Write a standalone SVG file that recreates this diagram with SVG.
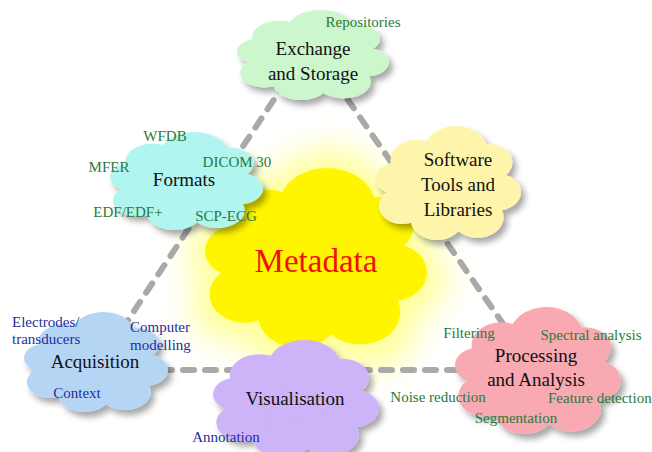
<svg xmlns="http://www.w3.org/2000/svg" xmlns:xlink="http://www.w3.org/1999/xlink" width="652" height="452" viewBox="0 0 652 452">
  <style>
    text { font-family: "Liberation Serif", Tinos, "Times New Roman", "DejaVu Serif", serif; }
    .title { font-size: 19px; fill: #111; text-anchor: middle; }
    .meta { font-size: 33px; fill: #f01010; text-anchor: middle; }
    .lbl { font-size: 15px; text-anchor: middle; }
    .green { fill: #2a7a3a; }
    .blue { fill: #1f2f9a; }
    .start { text-anchor: start; }
    .link { fill: none; stroke: #a9a9a9; stroke-width: 6; stroke-dasharray: 11 11; stroke-linecap: round; }
  </style>
  <defs>
    <!-- generic cloud outline in a 100x100 box, stretched per node -->
    <symbol id="cloud" viewBox="0 0 100 100" preserveAspectRatio="none">
      <ellipse cx="50" cy="52" rx="38" ry="30"/>
      <circle cx="28" cy="30" r="18"/>
      <circle cx="55" cy="22" r="22"/>
      <circle cx="78" cy="32" r="16"/>
      <circle cx="84" cy="58" r="16"/>
      <circle cx="70" cy="80" r="18"/>
      <circle cx="42" cy="82" r="18"/>
      <circle cx="18" cy="70" r="16"/>
      <circle cx="14" cy="46" r="14"/>
    </symbol>
    <filter id="shadow" x="-15%" y="-15%" width="140%" height="140%">
      <feGaussianBlur in="SourceAlpha" stdDeviation="3"/>
      <feOffset dx="4" dy="5" result="off"/>
      <feFlood flood-color="#000" flood-opacity="0.35"/>
      <feComposite in2="off" operator="in"/>
      <feMerge>
        <feMergeNode/>
        <feMergeNode in="SourceGraphic"/>
      </feMerge>
    </filter>
    <filter id="glow" x="-40%" y="-40%" width="180%" height="180%">
      <feGaussianBlur stdDeviation="16"/>
    </filter>
  </defs>

  <rect width="652" height="452" fill="#fff"/>

  <!-- halo behind the central cloud -->
  <g id="halo" filter="url(#glow)" opacity="0.75">
    <use xlink:href="#cloud" x="188" y="150" width="258" height="222" fill="#ffff70"/>
  </g>

  <!-- dashed triangle linking the outer clouds -->
  <g id="connectors">
    <line class="link" x1="310" y1="45" x2="95" y2="370"/>
    <line class="link" x1="310" y1="45" x2="535" y2="370"/>
    <line class="link" x1="95" y1="370" x2="535" y2="370"/>
  </g>

  <g id="metadata">
    <use xlink:href="#cloud" x="205" y="168" width="222" height="180" fill="#fff500"/>
    <text class="meta" x="316" y="272" font-family="Liberation Serif, serif">Metadata</text>
  </g>

  <g id="exchange">
    <g filter="url(#shadow)">
      <use xlink:href="#cloud" x="237" y="10" width="152" height="90" fill="#ccf7cc"/>
    </g>
    <text class="title" x="313" y="55">Exchange</text>
    <text class="title" x="313" y="80">and Storage</text>
    <text class="lbl green" x="363" y="27">Repositories</text>
  </g>

  <g id="formats">
    <g filter="url(#shadow)">
      <use xlink:href="#cloud" x="110" y="132" width="153" height="98" fill="#b0f5f0"/>
    </g>
    <text class="title" x="184" y="186">Formats</text>
    <text class="lbl green" x="165" y="141">WFDB</text>
    <text class="lbl green" x="109" y="172">MFER</text>
    <text class="lbl green" x="237" y="167">DICOM 30</text>
    <text class="lbl green" x="128" y="217">EDF/EDF+</text>
    <text class="lbl green" x="226" y="221">SCP-ECG</text>
  </g>

  <g id="software">
    <g filter="url(#shadow)">
      <use xlink:href="#cloud" x="376" y="126" width="145" height="114" fill="#fff5aa"/>
    </g>
    <text class="title" x="458" y="166">Software</text>
    <text class="title" x="458" y="191">Tools and</text>
    <text class="title" x="458" y="216">Libraries</text>
  </g>

  <g id="acquisition">
    <g filter="url(#shadow)">
      <use xlink:href="#cloud" x="24" y="312" width="144" height="100" fill="#b5d5f5"/>
    </g>
    <text class="title" x="95" y="368">Acquisition</text>
    <text class="lbl blue start" x="12" y="327">Electrodes/</text>
    <text class="lbl blue start" x="12" y="344">transducers</text>
    <text class="lbl blue start" x="130" y="332">Computer</text>
    <text class="lbl blue start" x="130" y="350">modelling</text>
    <text class="lbl blue" x="77" y="398">Context</text>
  </g>

  <g id="visualisation">
    <g filter="url(#shadow)">
      <use xlink:href="#cloud" x="213" y="340" width="166" height="118" fill="#cdb3f7"/>
    </g>
    <text class="title" x="295" y="405">Visualisation</text>
    <text class="lbl blue" x="226" y="442">Annotation</text>
  </g>

  <g id="processing">
    <g filter="url(#shadow)">
      <use xlink:href="#cloud" x="455" y="307" width="166" height="127" fill="#f8a9b2"/>
    </g>
    <text class="title" x="536" y="362">Processing</text>
    <text class="title" x="536" y="386">and Analysis</text>
    <text class="lbl green" x="469" y="338">Filtering</text>
    <text class="lbl green" x="591" y="340">Spectral analysis</text>
    <text class="lbl green" x="438" y="402">Noise reduction</text>
    <text class="lbl green start" x="548" y="403">Feature detection</text>
    <text class="lbl green" x="516" y="423">Segmentation</text>
  </g>
</svg>
